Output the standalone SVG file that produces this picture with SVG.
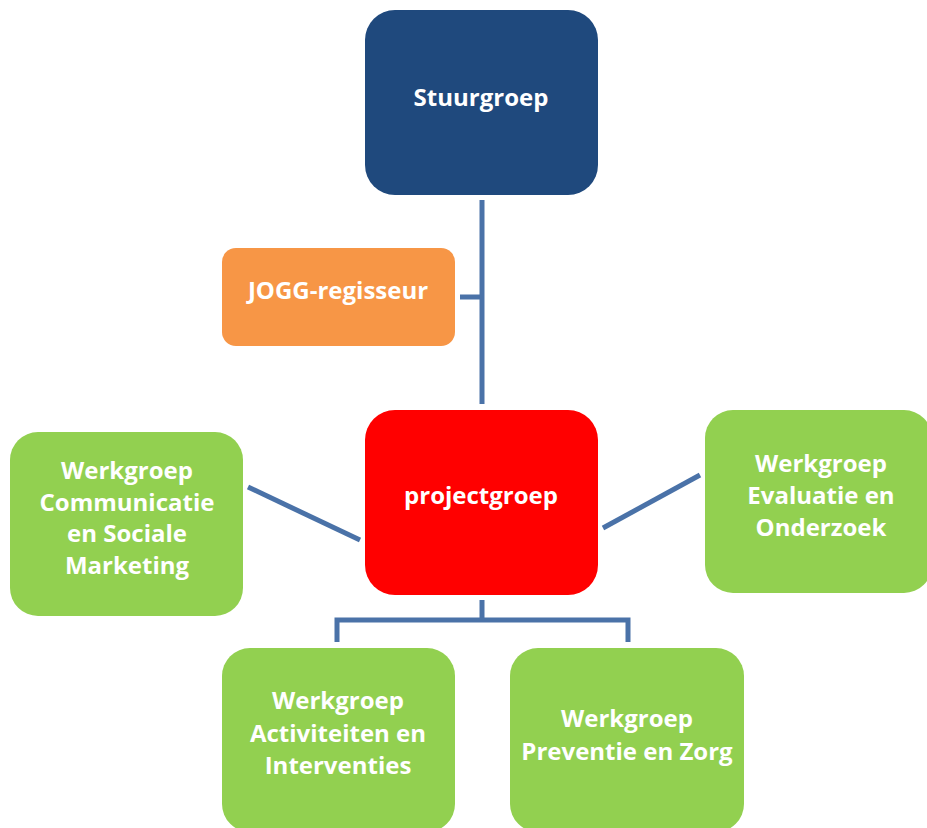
<svg xmlns="http://www.w3.org/2000/svg" width="927" height="828" viewBox="0 0 927 828">
<style>
.t{font-family:"Open Sans","Liberation Sans",sans-serif;font-weight:bold;font-size:24px;fill:#fff;text-anchor:middle}
.c{fill:none;stroke:#4A72A8;stroke-width:5}
</style>
<rect width="927" height="828" fill="#fff"/>
<g id="connectors">
<path class="c" d="M482 200V404M460 297H482"/>
<path class="c" d="M482 600V620M337 642V620H628V642"/>
<path class="c" d="M248 487L360 540"/>
<path class="c" d="M603 528L700 475"/>
</g>
<g id="stuurgroep"><rect x="365" y="10" width="233" height="185" rx="30" fill="#1F497D"/><text class="t" x="481" y="106">Stuurgroep</text></g>
<g id="jogg"><rect x="222" y="248" width="233" height="98" rx="14" fill="#F79646"/><text class="t" x="338" y="299">JOGG-regisseur</text></g>
<g id="projectgroep"><rect x="365" y="410" width="233" height="185" rx="30" fill="#FF0000"/><text class="t" x="481" y="504">projectgroep</text></g>
<g id="communicatie"><rect x="10" y="432" width="233" height="184" rx="28" fill="#92D050"/><text class="t" x="127"><tspan x="127" y="479">Werkgroep</tspan><tspan x="127" y="511">Communicatie</tspan><tspan x="127" y="542">en Sociale</tspan><tspan x="127" y="574">Marketing</tspan></text></g>
<g id="evaluatie"><rect x="705" y="410" width="227" height="183" rx="28" fill="#92D050"/><text class="t" x="821"><tspan x="821" y="472">Werkgroep</tspan><tspan x="821" y="504">Evaluatie en</tspan><tspan x="821" y="536">Onderzoek</tspan></text></g>
<g id="activiteiten"><rect x="222" y="648" width="233" height="184" rx="28" fill="#92D050"/><text class="t" x="338"><tspan x="338" y="709">Werkgroep</tspan><tspan x="338" y="742">Activiteiten en</tspan><tspan x="338" y="774">Interventies</tspan></text></g>
<g id="preventie"><rect x="510" y="648" width="234" height="184" rx="28" fill="#92D050"/><text class="t" x="627"><tspan x="627" y="727">Werkgroep</tspan><tspan x="627" y="760">Preventie en Zorg</tspan></text></g>
</svg>
